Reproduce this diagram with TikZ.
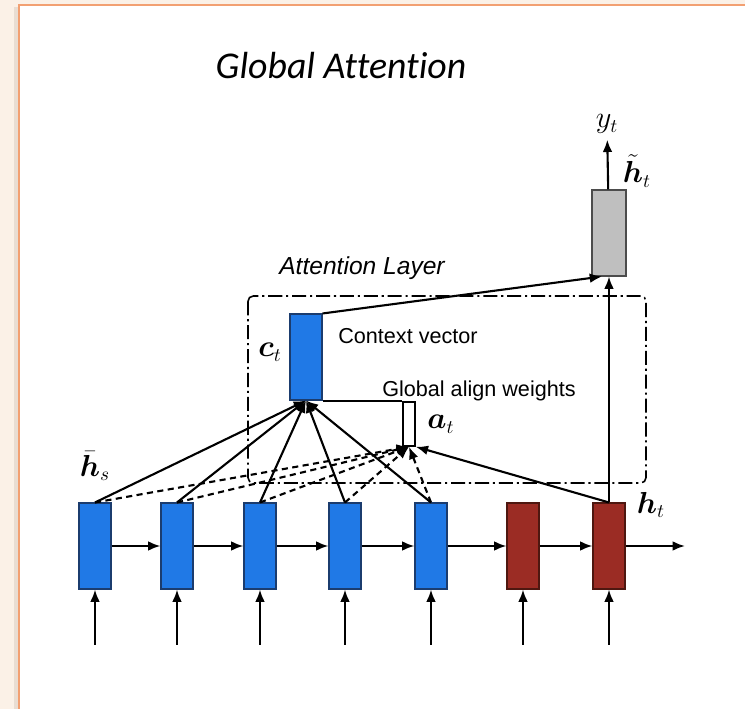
\documentclass[tikz,border=0pt]{standalone}
\usepackage{amsmath}
\usepackage{fontspec}
\setsansfont{Liberation Sans}
\newfontfamily\titlefont[Ligatures=NoCommon]{Carlito}
\usetikzlibrary{arrows.meta}
\definecolor{panelbg}{HTML}{FBF1E7}
\definecolor{panelrim}{HTML}{F2A072}
\definecolor{panelshade}{HTML}{E9DDD2}
\definecolor{encblue}{HTML}{2079E6}
\definecolor{encrim}{HTML}{1B3C6E}
\definecolor{decred}{HTML}{9B2C24}
\definecolor{decrim}{HTML}{4E1710}
\definecolor{attgray}{HTML}{BFBFBF}

\begin{document}
\begin{tikzpicture}[
  x=0.02cm,
  y=-0.02cm,
  >={Latex[length=7pt,width=5.5pt]},
  every node/.style={font=\fontsize{16}{18}\selectfont},
  cell/.style={draw, line width=0.6pt, minimum width=0.64cm, minimum height=1.72cm, inner sep=0pt},
  enc/.style={cell, fill=encblue, draw=encrim},
  dec/.style={cell, fill=decred, draw=decrim},
  link/.style={->, line width=1.2pt},
  weak/.style={->, line width=1.2pt, dash pattern=on 3.5pt off 2.5pt}
]
  \useasboundingbox (0,0) rectangle (745,709);
  \fill[panelbg] (0,0) rectangle (745,709);
  \fill[panelshade] (14,7) rectangle (19,709);
  \draw[panelrim, line width=1.3pt, fill=white] (19,5) rectangle (760,720);

  \node[font=\titlefont\itshape\fontsize{21.5}{24}\selectfont] (title) at (341,66) {Global Attention};

  % attention layer
  \draw[line width=0.9pt, dash pattern=on 8pt off 2.2pt on 1.2pt off 2.2pt, rounded corners=3pt]
    (248,296) rectangle (646,483);
  \node[font=\sffamily\itshape\fontsize{14}{16}\selectfont] (layername) at (362,268) {Attention Layer};

  % encoder and decoder cells
  \node[enc] (b1) at (95,546) {};
  \node[enc] (b2) at (177,546) {};
  \node[enc] (b3) at (260,546) {};
  \node[enc] (b4) at (345,546) {};
  \node[enc] (b5) at (431,546) {};
  \node[dec] (b6) at (523,546) {};
  \node[dec] (b7) at (609,546) {};
  \coordinate (out) at (685,546);

  \coordinate (x1) at (95,645);
  \coordinate (x2) at (177,645);
  \coordinate (x3) at (260,645);
  \coordinate (x4) at (345,645);
  \coordinate (x5) at (431,645);
  \coordinate (x6) at (523,645);
  \coordinate (x7) at (609,645);

  \node[enc] (ctx) at (306,357) {};
  \node[cell, fill=attgray, draw=black!70, minimum width=0.68cm] (gray) at (609,233) {};
  \node[draw, fill=white, line width=0.9pt, minimum width=0.24cm, minimum height=0.88cm, inner sep=0pt] (align) at (409,424) {};

  % labels
  \node (yt) at (607,124) {$y_t$};
  \node (htilde) at (637,171) {$\tilde{\boldsymbol{h}}_t$};
  \node (ctlabel) at (270,352) {$\boldsymbol{c}_t$};
  \node (atlabel) at (441,424) {$\boldsymbol{a}_t$};
  \node (hslabel) at (95,466) {$\bar{\boldsymbol{h}}_s$};
  \node (htlabel) at (651,505) {$\boldsymbol{h}_t$};
  \node[font=\sffamily\fontsize{12.3}{14}\selectfont] (ctxname) at (408,336) {Context vector};
  \node[font=\sffamily\fontsize{12.3}{14}\selectfont] (alignname) at (479,391) {Global align weights};

  % recurrence and inputs
  \draw[link] (b1) -- (b2);
  \draw[link] (b2) -- (b3);
  \draw[link] (b3) -- (b4);
  \draw[link] (b4) -- (b5);
  \draw[link] (b5) -- (b6);
  \draw[link] (b6) -- (b7);
  \draw[link] (b7) -- (out);
  \draw[link] (x1) -- (b1);
  \draw[link] (x2) -- (b2);
  \draw[link] (x3) -- (b3);
  \draw[link] (x4) -- (b4);
  \draw[link] (x5) -- (b5);
  \draw[link] (x6) -- (b6);
  \draw[link] (x7) -- (b7);

  % align weights
  \draw[weak] (b1.north) -- (align.south);
  \draw[weak] (b2.north) -- (align.south);
  \draw[weak] (b3.north) -- (align.south);
  \draw[weak] (b4.north) -- (align.south);
  \draw[weak] (b5.north) -- (align.south);
  \draw[link] (b7.north) -- (align.south east);

  % context
  \draw[link] (b1.north) -- (ctx.south);
  \draw[link] (b2.north) -- (ctx.south);
  \draw[link] (b3.north) -- (ctx.south);
  \draw[link] (b4.north) -- (ctx.south);
  \draw[link] (b5.north) -- (ctx.south);
  \draw[line width=1.2pt] (align.north west -| ctx.east) -- (align.north west);

  % output
  \draw[link] (b7.north) -- (gray.south);
  \draw[link] (ctx.north east) -- ([xshift=-0.14cm]gray.south);
  \draw[link] (gray) -- (yt);
\end{tikzpicture}
\end{document}
